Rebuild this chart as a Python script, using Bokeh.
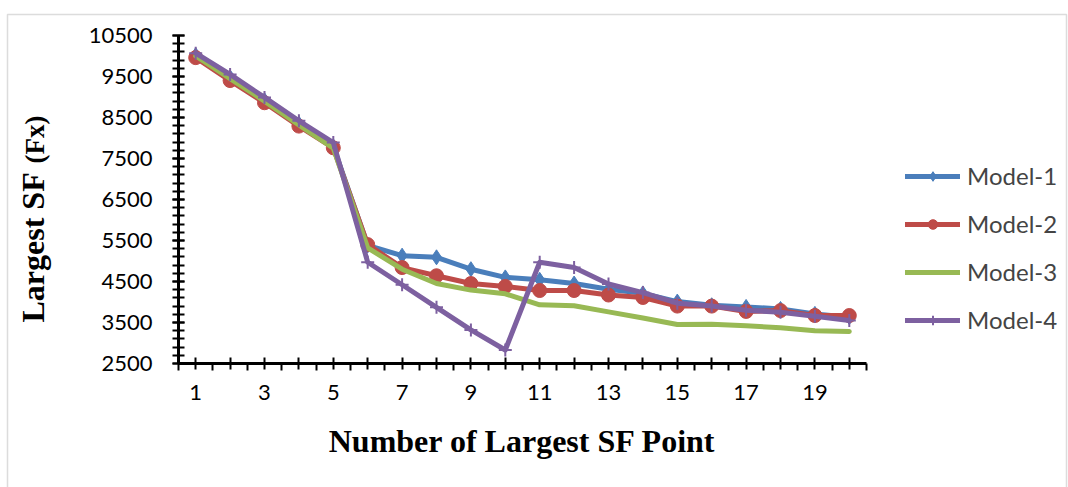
import math
from bokeh.plotting import figure
from bokeh.models import Range1d, FixedTicker, Label, Legend, LegendItem, BoxAnnotation, LinearAxis
from bokeh.embed import file_html
from bokeh.resources import INLINE

# ---- data ----
points = list(range(1, 21))
model_1 = [10020, 9480, 8920, 8350, 7800, 5380, 5130, 5090, 4800, 4600,
           4540, 4450, 4310, 4210, 4010, 3920, 3880, 3830, 3710, 3630]
model_2 = [9960, 9400, 8860, 8290, 7760, 5400, 4840, 4640, 4450, 4380,
           4280, 4280, 4170, 4110, 3900, 3900, 3770, 3790, 3670, 3670]
model_3 = [10000, 9450, 8900, 8320, 7750, 5320, 4800, 4450, 4290, 4200,
           3930, 3910, 3760, 3610, 3450, 3460, 3420, 3370, 3300, 3280]
model_4 = [10070, 9550, 8990, 8420, 7890, 4970, 4420, 3870, 3320, 2830,
           4970, 4840, 4440, 4230, 3970, 3900, 3800, 3750, 3650, 3550]
series_names = ["Model-1", "Model-2", "Model-3", "Model-4"]
y_ticks = [2500, 3500, 4500, 5500, 6500, 7500, 8500, 9500, 10500]
x_tick_labels = {i: (str(i) if i % 2 == 1 else "") for i in points}
x_title = "Number of Largest SF Point"
y_title_main = "Largest SF"
y_title_unit = "(Fx)"

W, H = 1068, 487
# pixel positions of the axis box inside the canvas
FL, FR, FT, FB = 178, 866, 35, 363
x0, x1 = 0.5, 20.5
y0, y1 = 2500, 10500
px_x = (FR - FL) / (x1 - x0)
px_y = (FB - FT) / (y1 - y0)

p = figure(width=W, height=H, output_backend="svg", toolbar_location=None,
           x_axis_location=None, y_axis_location=None,
           x_range=Range1d(x0 - FL / px_x, x1 + (W - FR) / px_x),
           y_range=Range1d(y0 - (H - FB) / px_y, y1 + FT / px_y),
           min_border=0)
p.outline_line_color = None
p.xgrid.visible = False
p.ygrid.visible = False
p.background_fill_color = "white"
p.border_fill_color = "white"

# axes (library axes fixed at the axis crossing)
xa = LinearAxis(fixed_location=y0, bounds=(x0, x1))
xa.ticker = FixedTicker(ticks=points, minor_ticks=[i + 0.5 for i in range(0, 21)])
xa.major_label_overrides = {i: s for i, s in x_tick_labels.items()}
xa.axis_line_width = 3
xa.axis_line_color = "black"
xa.major_tick_line_width = 2
xa.minor_tick_line_width = 2
xa.major_tick_in = 6
xa.major_tick_out = 6
xa.minor_tick_in = 0
xa.minor_tick_out = 7
xa.major_label_text_font = "Lato"
xa.major_label_text_font_size = "22px"
xa.major_label_text_color = "black"
xa.major_label_standoff = 14
p.add_layout(xa, "below")

ya = LinearAxis(fixed_location=x0, bounds=(y0, y1))
ya.ticker = FixedTicker(ticks=y_ticks, minor_ticks=list(range(2500, 10501, 200)))
ya.axis_line_width = 3
ya.axis_line_color = "black"
ya.major_tick_line_width = 2
ya.minor_tick_line_width = 2
ya.major_tick_in = 6
ya.major_tick_out = 6
ya.minor_tick_in = 6
ya.minor_tick_out = 6
ya.major_label_text_font = "Lato"
ya.major_label_text_font_size = "22px"
ya.major_label_text_color = "black"
ya.major_label_standoff = 20
p.add_layout(ya, "left")

colors = ["#4A7EBB", "#BE4B48", "#98B954", "#7D60A0"]
data = [model_1, model_2, model_3, model_4]
items = []
for name, ys, c in zip(series_names, data, colors):
    r = [p.line(points, ys, line_color=c, line_width=5, line_join="round", line_cap="round")]
    if name == "Model-1":
        r.append(p.scatter(points, ys, marker="diamond", size=15, fill_color=c, line_color=c))
    elif name == "Model-2":
        r.append(p.scatter(points, ys, marker="circle", size=14, fill_color=c, line_color=c))
    elif name == "Model-4":
        r.append(p.scatter(points, ys, marker="cross", size=13, line_color=c, line_width=2))
    items.append(LegendItem(label=name, renderers=r))

legend = Legend(items=items, location=(905, H - 334),
                glyph_width=55, glyph_height=24, label_height=24,
                spacing=19, padding=0, margin=0, label_standoff=7,
                label_text_font="Lato", label_text_font_size="24px",
                border_line_color=None, background_fill_alpha=0)
p.add_layout(legend, "center")

# axis titles
p.add_layout(Label(x=522, y=H - 440, x_units="screen", y_units="screen",
                   text=x_title, text_font="Liberation Serif", text_font_style="bold",
                   text_font_size="32px", text_align="center", text_baseline="middle",
                   text_color="black"))
p.add_layout(Label(x=32, y=H - 322, x_units="screen", y_units="screen",
                   text=y_title_main, angle=math.pi / 2, text_font="Liberation Serif",
                   text_font_style="bold", text_font_size="32px", text_align="left",
                   text_baseline="middle", text_color="black"))
p.add_layout(Label(x=34, y=H - 163, x_units="screen", y_units="screen",
                   text=y_title_unit, angle=math.pi / 2, text_font="Liberation Serif",
                   text_font_style="bold", text_font_size="27px", text_align="left",
                   text_baseline="middle", text_color="black"))

# chart frame
p.add_layout(BoxAnnotation(left=7, right=1066, top=H - 14, bottom=-20,
                           left_units="screen", right_units="screen",
                           top_units="screen", bottom_units="screen",
                           fill_alpha=0, line_color="#8c8c8c", line_width=1.5))

open("out.html", "w").write(file_html(p, INLINE))
